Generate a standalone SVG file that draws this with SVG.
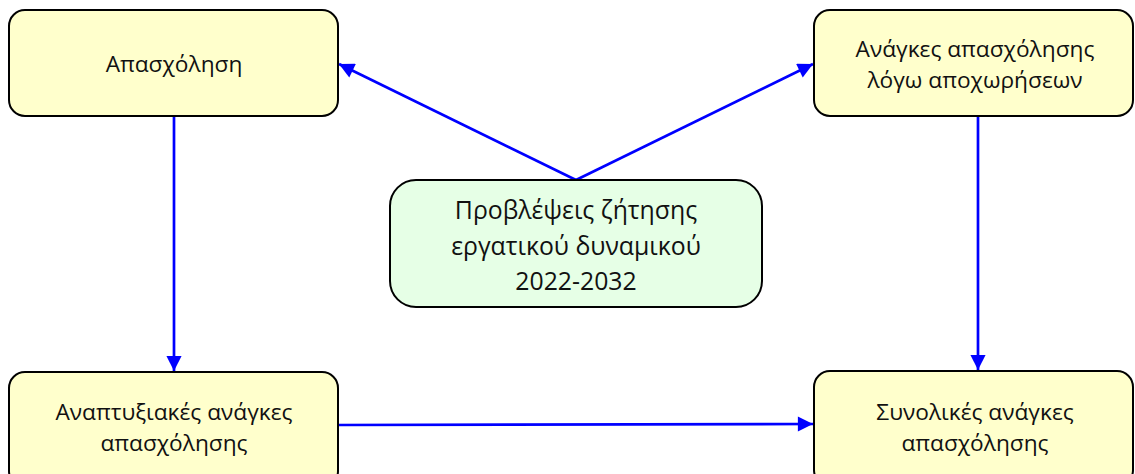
<svg xmlns="http://www.w3.org/2000/svg" width="1135" height="474" viewBox="0 0 1135 474">
<style>
.box{fill:#FFFFCC;stroke:#000;stroke-width:2}
.green{fill:#E6FFE6;stroke:#000;stroke-width:2}
text{font-family:"Open Sans","Liberation Sans",sans-serif;font-size:22.7px;fill:#111;text-anchor:middle}
.big{font-size:24.8px}
.conn{stroke:#0000FF;stroke-width:2.7;fill:none;marker-end:url(#ah)}
</style>
<defs>
<marker id="ah" viewBox="0 0 10 10" refX="10" refY="5" markerWidth="6" markerHeight="5.6" orient="auto" markerUnits="strokeWidth">
<path d="M0,0 L10,5 L0,10 z" fill="#0000FF"/>
</marker>
</defs>
<g id="connectors">
<line class="conn" x1="576" y1="180" x2="339" y2="64"/>
<line class="conn" x1="576" y1="180" x2="813" y2="64"/>
<line class="conn" x1="174" y1="116" x2="174" y2="371"/>
<line class="conn" x1="978" y1="116" x2="978" y2="370"/>
<line class="conn" x1="338" y1="425" x2="813" y2="424"/>
</g>
<g id="n-apasxolisi">
<rect class="box" x="9" y="10" width="329" height="106" rx="16"/>
<text x="174" y="72">Απασχόληση</text>
</g>
<g id="n-anagkes-apoxoriseon">
<rect class="box" x="814" y="10" width="319" height="106" rx="16"/>
<text x="975" y="57">Ανάγκες απασχόλησης</text>
<text x="975" y="88">λόγω αποχωρήσεων</text>
</g>
<g id="n-provlepseis">
<rect class="green" x="390" y="180" width="372" height="127" rx="26"/>
<text class="big" x="576" y="219">Προβλέψεις ζήτησης</text>
<text class="big" x="576" y="255">εργατικού δυναμικού</text>
<text class="big" x="576" y="290">2022-2032</text>
</g>
<g id="n-anaptyxiakes">
<rect class="box" x="9" y="372" width="329" height="115" rx="16"/>
<text x="174" y="420">Αναπτυξιακές ανάγκες</text>
<text x="174" y="451">απασχόλησης</text>
</g>
<g id="n-synolikes">
<rect class="box" x="814" y="371" width="319" height="115" rx="16"/>
<text x="975" y="420">Συνολικές ανάγκες</text>
<text x="975" y="451">απασχόλησης</text>
</g>
</svg>
